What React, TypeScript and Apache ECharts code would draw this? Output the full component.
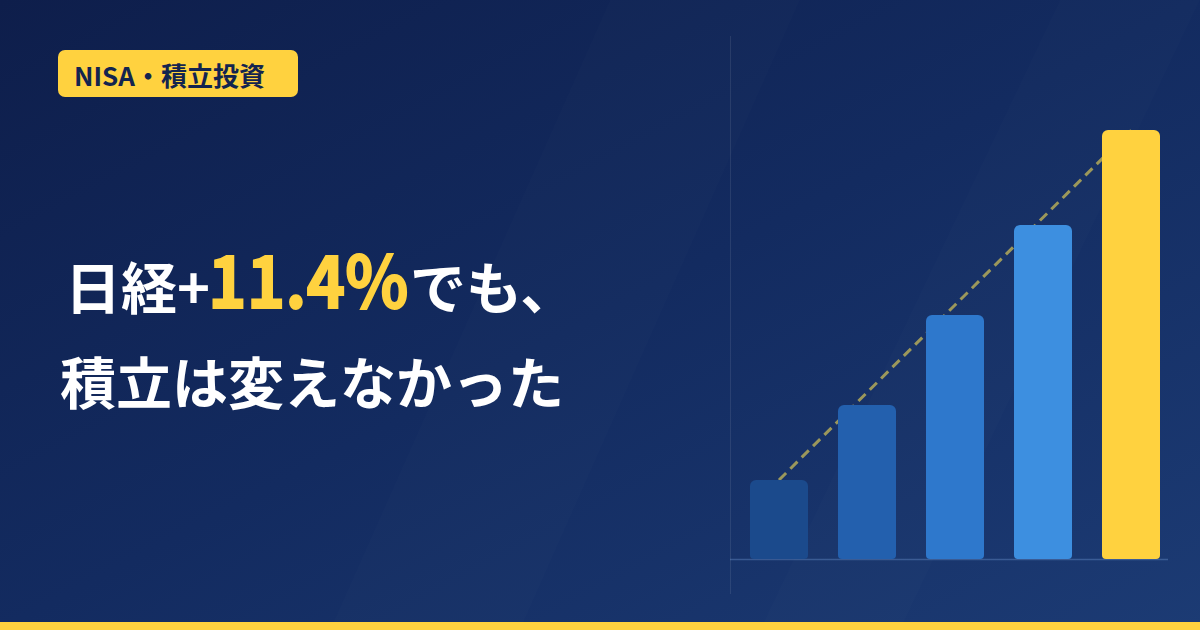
import React, { useEffect, useRef } from "react";
import * as echarts from "echarts";

// 積立額の推移（目盛りなしのイメージ図なので相対値）
const categories = ["1年目", "2年目", "3年目", "4年目", "5年目"];
const barValues = [79, 154, 244, 334, 429];
const trendValues = [79, null, null, null, 429];
const barColors = ["#1b4a8c", "#2360ae", "#2e78cc", "#3d8fe0", "#ffd23f"];

const badgeText = "NISA・積立投資";
const headPre = "日経+";
const headNum = "11.4%";
const headPost = "でも、";
const headLine2 = "積立は変えなかった";

const YELLOW = "#ffd23f";
const FONT = '"Noto Sans CJK JP", "Noto Sans", sans-serif';

const App: React.FC = () => {
    const chartRef = useRef<HTMLDivElement>(null);

    useEffect(() => {
        document.body.style.margin = "0";
        const chart = echarts.init(chartRef.current!, null, { renderer: "svg" });

        const option: any = {
            animation: false,
            backgroundColor: new echarts.graphic.LinearGradient(0, 0, 1, 1, [
                { offset: 0, color: "#0e1e4b" },
                { offset: 0.5, color: "#132b60" },
                { offset: 1, color: "#1c3b74" },
            ]),
            grid: { left: 735, width: 440, top: 130, bottom: 71 },
            xAxis: {
                type: "category",
                data: categories,
                axisLine: { show: false },
                axisTick: { show: false },
                axisLabel: { show: false },
            },
            yAxis: {
                type: "value",
                min: 0,
                max: 429,
                show: false,
                splitLine: { show: false },
            },
            series: [
                {
                    type: "line",
                    data: trendValues,
                    connectNulls: true,
                    symbol: "none",
                    z: 1,
                    lineStyle: { color: "rgba(225,205,85,0.66)", width: 3, type: [10, 6] },
                },
                {
                    type: "bar",
                    barWidth: 58,
                    z: 3,
                    data: barValues.map((v, i) => ({
                        value: v,
                        itemStyle: { color: barColors[i], borderRadius: [6, 6, 4, 4] },
                    })),
                },
            ],
            graphic: [
                // うっすらした斜めの光の帯
                {
                    type: "polygon",
                    z: 0,
                    shape: { points: [[330, 630], [520, 630], [800, 0], [610, 0]] },
                    style: { fill: "rgba(255,255,255,0.012)" },
                },
                {
                    type: "polygon",
                    z: 0,
                    shape: { points: [[760, 630], [900, 630], [1200, 0], [1060, 0]] },
                    style: { fill: "rgba(255,255,255,0.01)" },
                },
                // 軸の線
                {
                    type: "line",
                    z: 1,
                    shape: { x1: 730.5, y1: 36, x2: 730.5, y2: 594 },
                    style: { stroke: "rgba(255,255,255,0.09)", lineWidth: 1 },
                },
                {
                    type: "line",
                    z: 1,
                    shape: { x1: 730, y1: 559.5, x2: 1168, y2: 559.5 },
                    style: { stroke: "rgba(120,160,220,0.35)", lineWidth: 1.5 },
                },
                // バッジ
                {
                    type: "rect",
                    z: 5,
                    shape: { x: 58, y: 50, width: 240, height: 47, r: 7 },
                    style: { fill: YELLOW },
                },
                {
                    type: "text",
                    z: 6,
                    x: 74,
                    y: 74,
                    style: {
                        text: badgeText,
                        fill: "#13244f",
                        font: `bold 26px ${FONT}`,
                        verticalAlign: "middle",
                        align: "left",
                    },
                },
                // 見出し
                {
                    type: "text",
                    z: 6,
                    x: 65,
                    y: 284,
                    style: {
                        text: headPre,
                        fill: "#ffffff",
                        font: `bold 56px ${FONT}`,
                        verticalAlign: "middle",
                    },
                },
                {
                    type: "text",
                    z: 6,
                    x: 208,
                    y: 277,
                    scaleX: 0.91,
                    style: {
                        text: headNum,
                        fill: YELLOW,
                        stroke: YELLOW,
                        lineWidth: 1.8,
                        font: `bold 72px ${FONT}`,
                        verticalAlign: "middle",
                    },
                },
                {
                    type: "text",
                    z: 6,
                    x: 410,
                    y: 284,
                    style: {
                        text: headPost,
                        fill: "#ffffff",
                        font: `bold 56px ${FONT}`,
                        verticalAlign: "middle",
                    },
                },
                {
                    type: "text",
                    z: 6,
                    x: 60,
                    y: 379,
                    style: {
                        text: headLine2,
                        fill: "#ffffff",
                        font: `bold 56px ${FONT}`,
                        verticalAlign: "middle",
                    },
                },
                // 下の黄色いライン
                {
                    type: "rect",
                    z: 6,
                    shape: { x: 0, y: 622, width: 1200, height: 8 },
                    style: { fill: YELLOW },
                },
            ],
        };

        chart.setOption(option);

        return () => {
            chart.dispose();
        };
    }, []);

    return <div style={{ width: "1200px", height: "630px" }} ref={chartRef}></div>;
};

export default App;
